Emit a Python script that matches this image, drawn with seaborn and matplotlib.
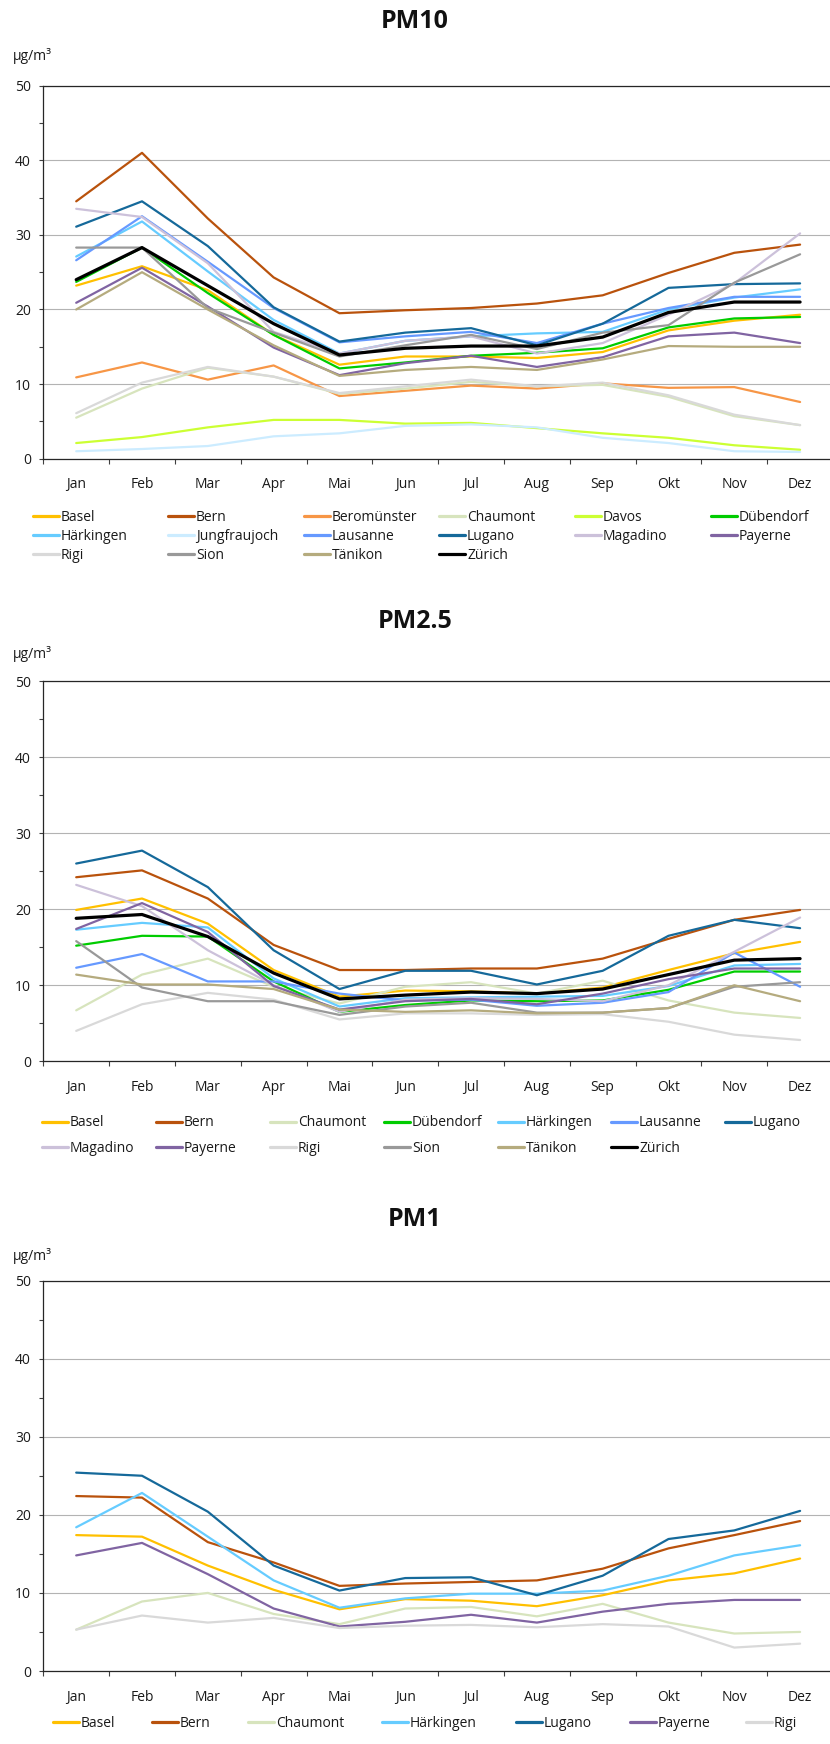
import numpy as np
import pandas as pd
import matplotlib
matplotlib.use("Agg")
import matplotlib.pyplot as plt
import seaborn as sns

# Monthly means (µg/m³) per station
months = ["Jan", "Feb", "Mar", "Apr", "Mai", "Jun", "Jul", "Aug", "Sep", "Okt", "Nov", "Dez"]

# PM10
basel_pm10 = [23.2, 25.8, 22.6, 16.6, 12.6, 13.7, 13.7, 13.5, 14.3, 17.2, 18.5, 19.3]
bern_pm10 = [34.5, 41.0, 32.2, 24.3, 19.5, 19.9, 20.2, 20.8, 21.9, 24.9, 27.6, 28.7]
beromuenster_pm10 = [10.9, 12.9, 10.6, 12.5, 8.4, 9.1, 9.8, 9.4, 10.1, 9.5, 9.6, 7.6]
chaumont_pm10 = [5.5, 9.4, 12.2, 11.0, 8.7, 9.4, 10.3, 9.7, 9.9, 8.3, 5.7, 4.5]
davos_pm10 = [2.1, 2.9, 4.2, 5.2, 5.2, 4.7, 4.8, 4.1, 3.4, 2.8, 1.8, 1.2]
duebendorf_pm10 = [23.7, 28.3, 22.2, 16.6, 12.1, 12.9, 13.8, 14.2, 14.8, 17.6, 18.8, 19.0]
haerkingen_pm10 = [27.1, 31.8, 25.1, 18.6, 14.1, 15.8, 16.4, 16.8, 17.0, 20.0, 21.6, 22.7]
jungfraujoch_pm10 = [1.0, 1.3, 1.7, 3.0, 3.4, 4.4, 4.6, 4.2, 2.8, 2.1, 1.0, 0.9]
lausanne_pm10 = [26.6, 32.5, 26.4, 20.2, 15.6, 16.4, 17.0, 15.5, 18.1, 20.2, 21.7, 21.7]
lugano_pm10 = [31.1, 34.5, 28.5, 20.3, 15.7, 16.9, 17.5, 15.2, 18.1, 22.9, 23.4, 23.5]
magadino_pm10 = [33.5, 32.4, 26.2, 17.0, 14.1, 15.8, 16.4, 14.1, 15.5, 19.3, 23.5, 30.2]
payerne_pm10 = [20.9, 25.6, 20.4, 14.9, 11.2, 12.8, 13.8, 12.3, 13.6, 16.4, 16.9, 15.5]
rigi_pm10 = [6.1, 10.2, 12.3, 11.0, 8.8, 9.7, 10.6, 9.7, 10.2, 8.5, 5.9, 4.5]
sion_pm10 = [28.3, 28.3, 20.2, 16.9, 13.7, 15.2, 16.6, 14.7, 16.9, 17.9, 23.6, 27.4]
taenikon_pm10 = [20.0, 25.0, 20.0, 15.2, 11.1, 11.9, 12.3, 11.9, 13.3, 15.1, 15.0, 15.0]
zuerich_pm10 = [24.0, 28.3, 23.2, 18.1, 13.9, 14.8, 15.1, 15.1, 16.3, 19.6, 21.0, 21.0]

# PM2.5
basel_pm25 = [19.9, 21.4, 18.1, 12.0, 8.5, 9.3, 9.2, 8.9, 9.7, 12.0, 14.2, 15.7]
bern_pm25 = [24.2, 25.1, 21.4, 15.3, 12.0, 12.0, 12.2, 12.2, 13.5, 16.1, 18.6, 19.9]
chaumont_pm25 = [6.7, 11.4, 13.5, 9.8, 7.6, 9.8, 10.4, 8.9, 10.6, 8.0, 6.4, 5.7]
duebendorf_pm25 = [15.2, 16.5, 16.4, 10.5, 6.5, 7.4, 8.0, 7.9, 8.0, 9.4, 11.8, 11.8]
haerkingen_pm25 = [17.3, 18.2, 17.6, 10.9, 7.2, 8.3, 8.4, 8.5, 8.6, 9.9, 12.6, 12.8]
lausanne_pm25 = [12.3, 14.1, 10.5, 10.5, 8.9, 8.0, 8.1, 7.3, 7.7, 9.1, 14.3, 9.8]
lugano_pm25 = [26.0, 27.7, 22.9, 14.6, 9.5, 11.9, 11.9, 10.1, 11.9, 16.5, 18.6, 17.5]
magadino_pm25 = [23.2, 20.4, 14.6, 10.0, 6.5, 8.1, 8.3, 8.2, 7.9, 10.0, 14.4, 18.9]
payerne_pm25 = [17.4, 20.8, 17.0, 9.9, 6.8, 7.9, 8.2, 7.5, 8.9, 10.8, 12.2, 12.2]
rigi_pm25 = [4.0, 7.5, 9.0, 8.1, 5.5, 6.3, 6.3, 6.1, 6.2, 5.2, 3.5, 2.8]
sion_pm25 = [15.8, 9.7, 7.9, 7.9, 6.1, 7.2, 7.7, 6.4, 6.4, 7.0, 9.8, 10.4]
taenikon_pm25 = [11.4, 10.1, 10.1, 9.5, 6.8, 6.5, 6.7, 6.3, 6.4, 7.0, 10.0, 7.9]
zuerich_pm25 = [18.8, 19.3, 16.4, 11.6, 8.2, 8.7, 9.1, 8.9, 9.5, 11.4, 13.3, 13.5]

# PM1
basel_pm1 = [17.4, 17.2, 13.5, 10.4, 7.9, 9.2, 9.0, 8.3, 9.7, 11.6, 12.5, 14.4]
bern_pm1 = [22.4, 22.2, 16.5, 13.9, 10.9, 11.2, 11.4, 11.6, 13.1, 15.7, 17.4, 19.2]
chaumont_pm1 = [5.3, 8.9, 10.0, 7.3, 6.0, 8.0, 8.2, 7.0, 8.6, 6.2, 4.8, 5.0]
haerkingen_pm1 = [18.4, 22.8, 17.2, 11.6, 8.1, 9.3, 9.9, 9.9, 10.3, 12.2, 14.8, 16.1]
lugano_pm1 = [25.4, 25.0, 20.4, 13.5, 10.3, 11.9, 12.0, 9.7, 12.2, 16.9, 18.0, 20.5]
payerne_pm1 = [14.8, 16.4, 12.4, 8.0, 5.7, 6.3, 7.2, 6.2, 7.6, 8.6, 9.1, 9.1]
rigi_pm1 = [5.3, 7.1, 6.2, 6.8, 5.5, 5.8, 5.9, 5.6, 6.0, 5.7, 3.0, 3.5]

station_colors = {
    "Basel": "#FFC000",
    "Bern": "#B9520C",
    "Beromünster": "#F79646",
    "Chaumont": "#D7E4BD",
    "Davos": "#CCFF33",
    "Dübendorf": "#00CC00",
    "Härkingen": "#66CCFF",
    "Jungfraujoch": "#CCECFF",
    "Lausanne": "#6699FF",
    "Lugano": "#15699A",
    "Magadino": "#CCC1DA",
    "Payerne": "#8064A2",
    "Rigi": "#D9D9D9",
    "Sion": "#999999",
    "Tänikon": "#B5AB7E",
    "Zürich": "#000000",
}

pm10 = {
    "Basel": basel_pm10, "Bern": bern_pm10, "Beromünster": beromuenster_pm10,
    "Chaumont": chaumont_pm10, "Davos": davos_pm10, "Dübendorf": duebendorf_pm10,
    "Härkingen": haerkingen_pm10, "Jungfraujoch": jungfraujoch_pm10,
    "Lausanne": lausanne_pm10, "Lugano": lugano_pm10, "Magadino": magadino_pm10,
    "Payerne": payerne_pm10, "Rigi": rigi_pm10, "Sion": sion_pm10,
    "Tänikon": taenikon_pm10, "Zürich": zuerich_pm10,
}
pm25 = {
    "Basel": basel_pm25, "Bern": bern_pm25, "Chaumont": chaumont_pm25,
    "Dübendorf": duebendorf_pm25, "Härkingen": haerkingen_pm25,
    "Lausanne": lausanne_pm25, "Lugano": lugano_pm25, "Magadino": magadino_pm25,
    "Payerne": payerne_pm25, "Rigi": rigi_pm25, "Sion": sion_pm25,
    "Tänikon": taenikon_pm25, "Zürich": zuerich_pm25,
}
pm1 = {
    "Basel": basel_pm1, "Bern": bern_pm1, "Chaumont": chaumont_pm1,
    "Härkingen": haerkingen_pm1, "Lugano": lugano_pm1, "Payerne": payerne_pm1,
    "Rigi": rigi_pm1,
}

sns.set_theme(style="white")
plt.rcParams["font.family"] = ["Open Sans", "DejaVu Sans"]

W, H = 830, 1744
fig = plt.figure(figsize=(W / 100, H / 100), dpi=100)


def fx(px):
    return px / W


def fy(py):
    return 1 - py / H


# layout of each panel in pixels
panels = [
    dict(title="PM10", data=pm10, top=85.7, bottom=458.7, title_y=21, unit_y=56,
         leg_x=[33, 168, 304, 439, 575, 711], leg_y=[517, 536, 555], ncol=6),
    dict(title="PM2.5", data=pm25, top=681.0, bottom=1061.3, title_y=621, unit_y=654,
         leg_x=[42, 156, 270, 384, 498, 611, 725], leg_y=[1123, 1148], ncol=7),
    dict(title="PM1", data=pm1, top=1280.5, bottom=1671.0, title_y=1219, unit_y=1256,
         leg_x=[53, 152, 248, 382, 516, 630, 746], leg_y=[1723], ncol=7),
]

AX_LEFT, AX_RIGHT = 43.3, 833.0
x_pos = np.arange(len(months))

for p in panels:
    ax = fig.add_axes([fx(AX_LEFT), fy(p["bottom"]), (AX_RIGHT - AX_LEFT) / W,
                       (p["bottom"] - p["top"]) / H])
    handles, names = [], []
    for name, values in p["data"].items():
        df = pd.DataFrame({"month": x_pos, "value": values})
        lw = 2.3 if name == "Zürich" else 1.6
        sns.lineplot(data=df, x="month", y="value", color=station_colors[name],
                     linewidth=lw, ax=ax, legend=False)
        handles.append(ax.lines[-1])
        names.append(name)

    ax.set_xlim(-0.5, len(months) - 0.5)
    ax.set_ylim(0, 50)
    ax.set_xlabel("")
    ax.set_ylabel("")
    ax.set_xticks(x_pos)
    ax.set_xticklabels(months)
    ax.set_xticks(np.arange(-0.5, len(months), 1.0), minor=True)
    ax.tick_params(axis="x", which="major", length=0, pad=13.5, labelsize=10,
                   labelcolor="#1a1a1a")
    ax.tick_params(axis="x", which="minor", bottom=True, length=3.6, width=0.8,
                   direction="out", color="#404040")
    ax.set_yticks(np.arange(0, 51, 10))
    ax.set_yticks(np.arange(5, 50, 10), minor=True)
    ax.tick_params(axis="y", which="both", left=True, length=3, width=0.8,
                   direction="out", color="#404040")
    ax.tick_params(axis="y", which="major", pad=6, labelsize=10, labelcolor="#1a1a1a")
    ax.grid(axis="y", which="major", color="#b3b3b3", linewidth=0.8)
    ax.set_axisbelow(True)
    for side in ("left", "bottom", "top"):
        ax.spines[side].set_visible(True)
        ax.spines[side].set_color("#262626")
        ax.spines[side].set_linewidth(0.9)
    ax.spines["right"].set_visible(False)

    fig.text(0.5, fy(p["title_y"]), p["title"], ha="center", va="center",
             fontsize=18, fontweight="bold", color="#111111")
    fig.text(fx(13), fy(p["unit_y"]), "µg/m³", ha="left", va="center",
             fontsize=10, color="#1a1a1a")

    # legend laid out row by row on a fixed grid
    for i, (h, name) in enumerate(zip(handles, names)):
        r, c = divmod(i, p["ncol"])
        leg = fig.legend([h], [name], loc="center left",
                         bbox_to_anchor=(fx(p["leg_x"][c]), fy(p["leg_y"][r])),
                         frameon=False, borderpad=0, borderaxespad=0,
                         handlelength=1.9, handletextpad=0.12, fontsize=10,
                         labelcolor="#1a1a1a")
        for ln in leg.get_lines():
            ln.set_linewidth(2.3)

fig.savefig("out.png", dpi=100)
